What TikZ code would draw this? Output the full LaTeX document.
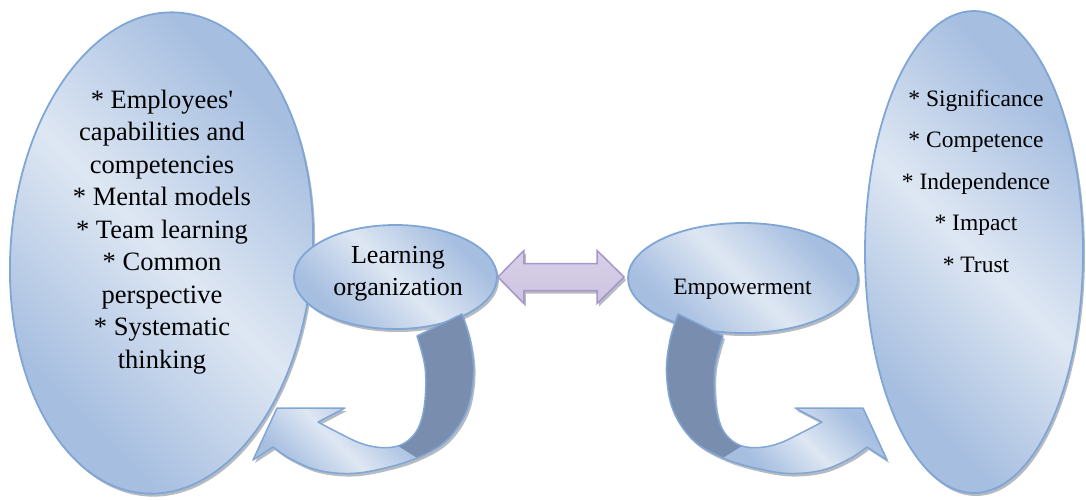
\documentclass[tikz,border=0pt]{standalone}
\usepackage{fontspec}
\setmainfont{Liberation Serif}
\usetikzlibrary{shapes.geometric,shadows,calc}

\definecolor{sheenlight}{RGB}{222,231,243}
\definecolor{sheendark}{RGB}{166,190,224}
\definecolor{rim}{RGB}{128,166,214}
\definecolor{backface}{RGB}{121,142,174}
\definecolor{shadowgrey}{RGB}{110,118,132}
\definecolor{lavlight}{RGB}{237,232,244}
\definecolor{lavdark}{RGB}{206,196,225}
\definecolor{lavrim}{RGB}{167,150,202}

\pgfdeclarehorizontalshading{sheen}{100bp}{color(0bp)=(sheendark); color(28bp)=(sheendark); color(50bp)=(sheenlight); color(72bp)=(sheendark); color(100bp)=(sheendark)}

\tikzset{
  bubble/.style={ellipse, draw=rim, line width=1.8pt, shade, shading=sheen,
    shading angle=45, inner sep=0pt,
    drop shadow={shadow xshift=2pt, shadow yshift=-3pt, fill=shadowgrey, opacity=.5}},
  txtnode/.style={inner sep=0pt, anchor=base, text=black},
  ribbonrim/.style={draw=rim, line width=1.5pt, line join=round},
  fatarrow/.style={draw=lavrim, line width=1.5pt, line join=miter,
    top color=lavdark!70!lavlight, middle color=lavlight, bottom color=lavdark}
}

% curved ribbon arrow: shadow and body, drawn in local coordinates
\newcommand\ribbonshadow{%
  \fill[shadowgrey, opacity=.5] (417,336) -- (462,314)
    -- plot[smooth, tension=.6] coordinates {(462,314) (470,340) (473.5,373) (467,410) (447,440) (417,458) (383,468.5) (350,473.5) (317,470) (290,458.5) (273,447)}
    -- (253,460) -- (277,408) -- (345,408) -- (318,422)
    -- plot[smooth, tension=.6] coordinates {(318,422) (337,432) (360,443) (380,447.5) (398,446) (411,438) (420,424) (425,400) (425,367) (417,336)}
    -- cycle;}
\newcommand\ribbonbody{%
  % back face of the twisted band
  \fill[backface] (417,336) -- (462,314)
    -- plot[smooth, tension=.6] coordinates {(462,314) (470,340) (473.5,373) (467,410) (447,440) (417,458) (383,468.5) (350,473.5) (317,470) (290,458.5) (273,447)}
    -- (253,460) -- (277,408) -- (345,408) -- (318,422)
    -- plot[smooth, tension=.6] coordinates {(318,422) (337,432) (360,443) (380,447.5) (398,446) (411,438) (420,424) (425,400) (425,367) (417,336)}
    -- cycle;
  % front face with the head
  \shade[shading=sheen, shading angle=45] (398,446) -- (417,458)
    -- plot[smooth, tension=.6] coordinates {(417,458) (383,468.5) (350,473.5) (317,470) (290,458.5) (273,447)}
    -- (253,460) -- (277,408) -- (345,408) -- (318,422)
    -- plot[smooth, tension=.6] coordinates {(318,422) (337,432) (360,443) (380,447.5) (398,446)}
    -- cycle;
  % outline
  \draw[ribbonrim] (417,336) -- (462,314)
    -- plot[smooth, tension=.6] coordinates {(462,314) (470,340) (473.5,373) (467,410) (447,440) (417,458) (383,468.5) (350,473.5) (317,470) (290,458.5) (273,447)}
    -- (253,460) -- (277,408) -- (345,408) -- (318,422)
    -- plot[smooth, tension=.6] coordinates {(318,422) (337,432) (360,443) (380,447.5) (398,446) (411,438) (420,424) (425,400) (425,367) (417,336)}
    -- cycle;}

\begin{document}
\begin{tikzpicture}[x=1pt, y=-1pt]
\useasboundingbox (0,0) rectangle (1086,499);

% large ellipses
\node[bubble, rotate=-4, minimum width=302pt, minimum height=482pt] (traits) at (161.5,253) {};
\node[bubble, minimum width=218pt, minimum height=482pt] (dims) at (974,252) {};

% central ellipses
\node[bubble, minimum width=203pt, minimum height=104pt] (lo) at (395.5,277) {};
\node[bubble, minimum width=230pt, minimum height=110pt] (emp) at (743,278) {};

% two-headed arrow between the central ellipses
\coordinate (dl) at (lo.east);
\path (emp.west |- lo.east) ++(-3,0) coordinate (dr);
\fill[shadowgrey, opacity=.5, transform canvas={xshift=2pt, yshift=-3pt}]
  (dl) -- ($(dl)+(26,-26.5)$) -- ($(dl)+(26,-13.5)$) -- ($(dr)+(-27,-13.5)$)
  -- ($(dr)+(-27,-26.5)$) -- (dr) -- ($(dr)+(-27,26.5)$) -- ($(dr)+(-27,13.5)$)
  -- ($(dl)+(26,13.5)$) -- ($(dl)+(26,26.5)$) -- cycle;
\path[fatarrow]
  (dl) -- ($(dl)+(26,-26.5)$) -- ($(dl)+(26,-13.5)$) -- ($(dr)+(-27,-13.5)$)
  -- ($(dr)+(-27,-26.5)$) -- (dr) -- ($(dr)+(-27,26.5)$) -- ($(dr)+(-27,13.5)$)
  -- ($(dl)+(26,13.5)$) -- ($(dl)+(26,26.5)$) -- cycle;

% curved arrows below the central ellipses
\begin{scope}[shift={(2,3)}]\ribbonshadow\end{scope}
\ribbonbody
\begin{scope}[shift={(1142,3)}, xscale=-1]\ribbonshadow\end{scope}
\begin{scope}[shift={(1140,0)}, xscale=-1]\ribbonbody\end{scope}

% texts
\node[txtnode] (traitstext) at (162,108) {\parbox[t]{270pt}{\centering\fontsize{26.5}{32.5}\selectfont
  * Employees\textquotesingle\\capabilities and\\competencies\\{}* Mental models\\{}* Team learning\\{}* Common\\perspective\\{}* Systematic\\thinking}};
\node[txtnode] (dimstext) at (976,106) {\parbox[t]{200pt}{\centering\fontsize{23.5}{41.5}\selectfont
  * Significance\\{}* Competence\\{}* Independence\\{}* Impact\\{}* Trust}};
\node[txtnode] (lotext) at (398,263) {\parbox[t]{190pt}{\centering\fontsize{26}{32}\selectfont
  Learning\\organization}};
\node[txtnode] (emptext) at (742.5,294) {\fontsize{23.5}{28}\selectfont Empowerment};
\end{tikzpicture}
\end{document}
